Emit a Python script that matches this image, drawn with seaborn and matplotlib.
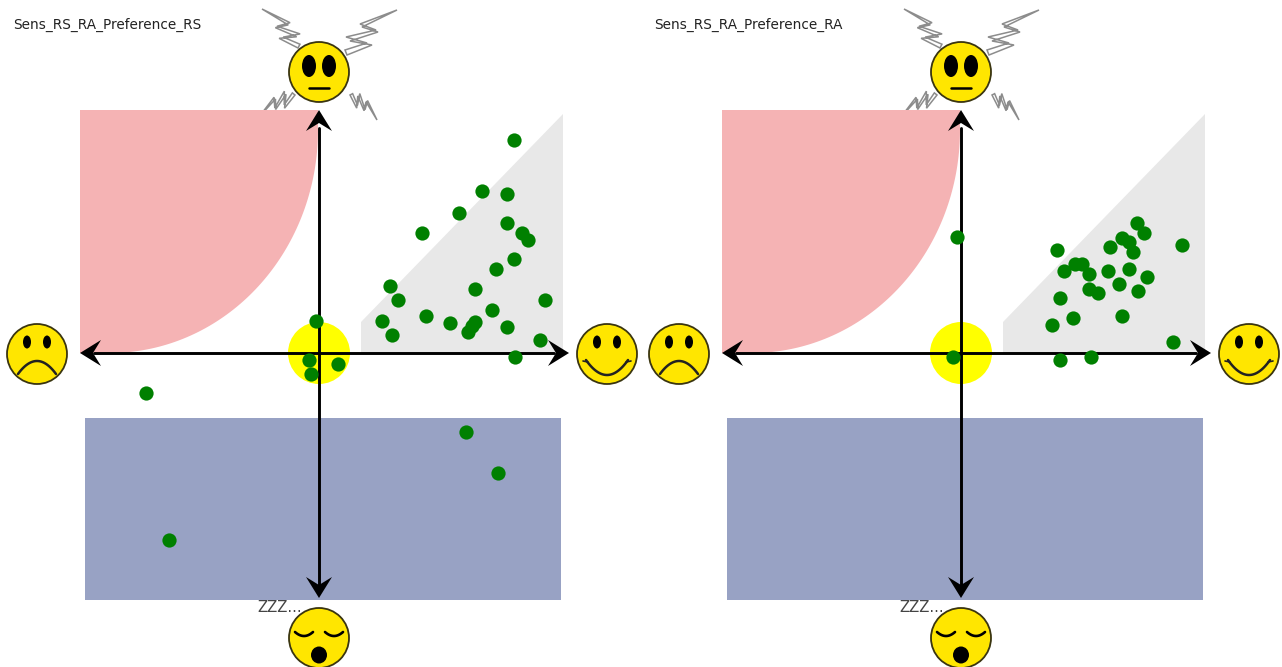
import numpy as np
import pandas as pd
import seaborn as sns
import matplotlib.pyplot as plt
from matplotlib.patches import Circle, Ellipse, Polygon, Rectangle

# valence / arousal of each participant (scale: axis ends at +-244)
valence_rs = [195, 163, 188, 140, 188, 103, 203, 209, 195, 177, 71, 156, 79, 226, 173, 107, 63,
              131, 156, 153, 149, 188, 73, 221, 196, -3, -10, 19, -8, -173, 147, 179, -150]
arousal_rs = [213, 162, 159, 140, 130, 120, 120, 113, 94, 84, 67, 64, 53, 53, 43, 37, 32,
              30, 31, 27, 21, 26, 18, 13, -4, 32, -7, -11, -21, -40, -79, -120, -187]
valence_ra = [-4, 96, 176, 183, 161, 168, 149, 172, 221, 114, 121, 103, 128, 147, 168, 186, 158,
              128, 137, 177, 99, 161, 112, 91, 212, 130, 99, -8]
arousal_ra = [116, 103, 130, 120, 115, 111, 106, 101, 108, 89, 89, 82, 79, 82, 84, 76, 69,
              64, 60, 62, 55, 37, 35, 28, 11, -4, -7, -4]
titles = ['Sens_RS_RA_Preference_RS', 'Sens_RS_RA_Preference_RA']

FACE = '#FFE600'
EDGE = '#3A3510'
# outline of one lightning bolt, tail first
BOLT = np.array([0 + 0j, 25 + 10j, 3 + 14j, 31 + 23j, 15 + 28j, 50 + 45j,
                 13 + 31j, 29 + 25j, -1 + 18j, 20 + 12j, -2 + 5j]) / (50 + 45j)


def bolt(ax, start, end, mirror=False):
    start, end = complex(*start), complex(*end)
    shape = np.conj(BOLT) if mirror else BOLT
    pts = start + shape * (end - start)
    ax.add_patch(Polygon(np.c_[pts.real, pts.imag], closed=True, fc='white', ec='#8c8c8c', lw=1.1, zorder=0.5))


def face(ax, cx, cy):
    ax.add_patch(Circle((cx, cy), 30, fc=FACE, ec=EDGE, lw=1.3, zorder=5))


def eyes(ax, cx, cy, dx, rx, ry, dy):
    for s in (-1, 1):
        ax.add_patch(Ellipse((cx + s * dx, cy + dy), 2 * rx, 2 * ry, fc='black', ec='none', zorder=6))


def arrow_head(ax, tip, direction):
    d = np.array(direction, float)
    n = np.array([-d[1], d[0]])
    tip = np.array(tip, float)
    pts = [tip, tip - 21 * d + 13 * n, tip - 13 * d, tip - 21 * d - 13 * n]
    ax.add_patch(Polygon(pts, closed=True, fc='black', ec='none', zorder=4))


def draw_panel(ax, dx, title, valence, arousal):
    ax.set_xlim(-dx, 641 - dx)
    ax.set_ylim(-314, 353)
    ax.axis('off')

    # zones
    t = np.linspace(0, np.pi / 2, 80)
    curve_x = -209 + 208 * np.cos(t)
    curve_y = 223 - 223 * np.sin(t)
    pink = np.r_[[[-239, 243], [-1, 243]], np.c_[curve_x, curve_y], [[-239, 0]]]
    ax.add_patch(Polygon(pink, fc='#F5B3B4', ec='none', zorder=1))
    ax.add_patch(Polygon([(42, 31), (244, 239), (244, 0), (42, 0)], fc='#E8E8E8', ec='none', zorder=1))
    ax.add_patch(Rectangle((-234, -247), 476, 182, fc='#98A2C4', ec='none', zorder=1))
    ax.add_patch(Circle((0, 0), 31, fc='#FFFF00', ec='none', zorder=1.5))

    # axes arrows
    ax.plot([-225, 235], [0, 0], color='black', lw=2.1, zorder=3)
    ax.plot([0, 0], [225, -232], color='black', lw=2.1, zorder=3)
    arrow_head(ax, (-239, 0), (-1, 0))
    arrow_head(ax, (250, 0), (1, 0))
    arrow_head(ax, (0, 243), (0, 1))
    arrow_head(ax, (0, -245), (0, -1))

    # neutral face with lightning
    bolt(ax, (-21, 305), (-57, 344), mirror=True)
    bolt(ax, (28, 298), (78, 343))
    bolt(ax, (-24, 258), (-60, 236), mirror=True)
    bolt(ax, (31, 258), (58, 233))
    face(ax, 0, 281)
    eyes(ax, 0, 281, 10, 7, 11, 6)
    ax.plot([-10, 10], [265, 265], color='black', lw=1.8, zorder=6)

    # sad face
    face(ax, -282, -1)
    eyes(ax, -282, -1, 10, 4, 6.5, 12)
    xs = np.linspace(-19, 19, 40)
    ax.plot(-282 + xs, -21 + 13 * (1 - (xs / 19) ** 2), color='#222222', lw=1.8, zorder=6)

    # happy face
    face(ax, 288, -1)
    eyes(ax, 288, -1, 10, 4, 6.5, 12)
    xs = np.linspace(-21, 21, 40)
    ax.plot(288 + xs, -22 + 15 * (xs / 21) ** 2, color='#222222', lw=1.8, zorder=6)
    for s in (-1, 1):
        ax.plot([288 + s * 24, 288 + s * 19], [-8, -9], color='#222222', lw=1.2, zorder=6)

    # sleeping face
    face(ax, 0, -285)
    for s in (-1, 1):
        xs = np.linspace(-9, 9, 20)
        ax.plot(s * 15 + xs, -279 - 4 * (1 - (xs / 9) ** 2), color='black', lw=1.9, zorder=6)
    ax.add_patch(Ellipse((0, -302), 16, 17, fc='black', ec='none', zorder=6))
    ax.text(-62, -254, 'ZZZ...', fontsize=10.8, color='#444444', ha='left', va='center', zorder=6)

    df = pd.DataFrame({'valence': valence, 'arousal': arousal})
    sns.scatterplot(data=df, x='valence', y='arousal', color='#008000', s=105, linewidth=0,
                    zorder=7, ax=ax, legend=False)
    ax.axis('off')
    ax.text(13 - dx, 328, title, fontsize=9.85, color='#222222', ha='left', va='center')


sns.set_style('white')
fig = plt.figure(figsize=(12.82, 6.67), dpi=100)
ax1 = fig.add_axes([0, 0, 641 / 1282, 1])
ax2 = fig.add_axes([641 / 1282, 0, 641 / 1282, 1])
draw_panel(ax1, 319, titles[0], valence_rs, arousal_rs)
draw_panel(ax2, 320, titles[1], valence_ra, arousal_ra)
fig.savefig('out.png', dpi=100)
